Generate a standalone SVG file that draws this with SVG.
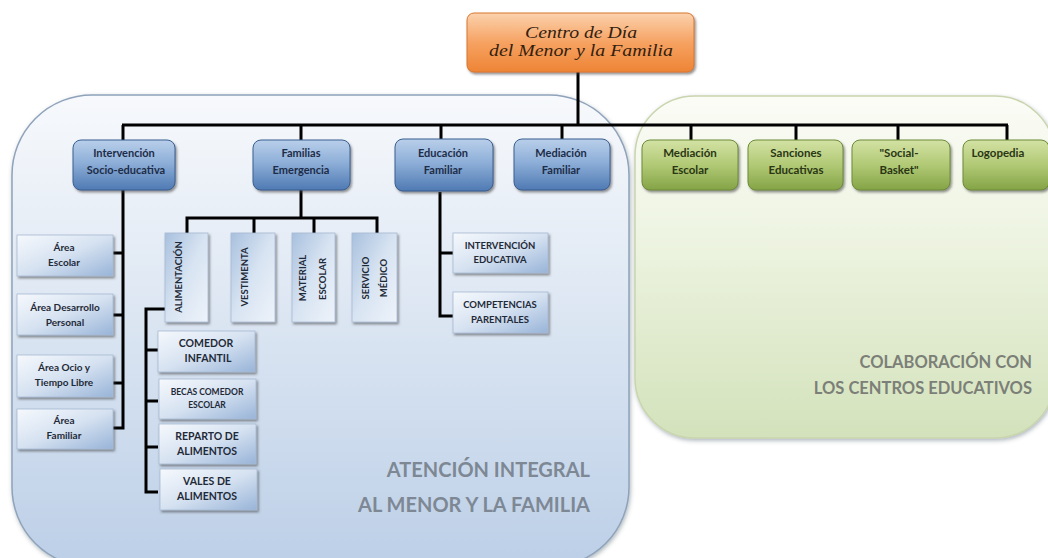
<svg xmlns="http://www.w3.org/2000/svg" width="1048" height="558" viewBox="0 0 1048 558">
<defs>
<linearGradient id="gPanelBlue" x1="0" y1="0" x2="0" y2="1">
<stop offset="0" stop-color="#f7f9fc"/><stop offset="0.35" stop-color="#e3ebf5"/><stop offset="1" stop-color="#bccfe7"/>
</linearGradient>
<linearGradient id="gPanelGreen" x1="0" y1="0" x2="0" y2="1">
<stop offset="0" stop-color="#fbfcf6"/><stop offset="0.4" stop-color="#eef4e2"/><stop offset="1" stop-color="#d3e2bb"/>
</linearGradient>
<linearGradient id="gOrange" x1="0" y1="0" x2="0" y2="1">
<stop offset="0" stop-color="#fbd2ad"/><stop offset="0.5" stop-color="#f6a262"/><stop offset="1" stop-color="#ee8435"/>
</linearGradient>
<linearGradient id="gBlue" x1="0" y1="0" x2="0" y2="1">
<stop offset="0" stop-color="#b9cfea"/><stop offset="0.45" stop-color="#8eafd8"/><stop offset="1" stop-color="#4f7ab3"/>
</linearGradient>
<linearGradient id="gGreen" x1="0" y1="0" x2="0" y2="1">
<stop offset="0" stop-color="#d3e2a4"/><stop offset="0.5" stop-color="#b1c975"/><stop offset="1" stop-color="#84a446"/>
</linearGradient>
<linearGradient id="gSub" x1="0" y1="0" x2="1" y2="1">
<stop offset="0" stop-color="#f6f9fd"/><stop offset="0.5" stop-color="#d6e2f1"/><stop offset="1" stop-color="#98b4d8"/>
</linearGradient>
<linearGradient id="gSubV" x1="0" y1="0" x2="1" y2="1">
<stop offset="0" stop-color="#a8c0de"/><stop offset="0.5" stop-color="#d8e4f2"/><stop offset="1" stop-color="#eef3fa"/>
</linearGradient>
<filter id="sh" x="-10%" y="-10%" width="130%" height="130%">
<feDropShadow dx="1.5" dy="2" stdDeviation="1" flood-color="#404040" flood-opacity="0.55"/>
</filter>
<filter id="shP" x="-5%" y="-5%" width="110%" height="110%">
<feDropShadow dx="1" dy="2" stdDeviation="2" flood-color="#506070" flood-opacity="0.45"/>
</filter>
</defs>
<style>
.t{font-family:Lato,"Liberation Sans",Arial,sans-serif;font-weight:700;text-anchor:middle}
.tb{fill:#1d2c48;font-size:11px}
.tg{fill:#2a3614;font-size:11.5px}
.ts{fill:#1f2a38;font-size:10px}
.tv{fill:#1f2a38;font-size:9.5px}
.big{font-family:Lato,"Liberation Sans",Arial,sans-serif;font-weight:700;text-anchor:end}
.conn{stroke:#000;stroke-width:3;fill:none;stroke-linejoin:miter}
.nb{fill:url(#gBlue);stroke:#3a5f90;stroke-width:1;filter:url(#sh)}
.ng{fill:url(#gGreen);stroke:#6d8a38;stroke-width:1;filter:url(#sh)}
.ns{fill:url(#gSub);stroke:#a7b9d2;stroke-width:0.8;filter:url(#sh)}
.nv{fill:url(#gSubV);stroke:#a7b9d2;stroke-width:0.8;filter:url(#sh)}
</style>

<g id="panels">
<rect x="12" y="95" width="617" height="472" rx="80" ry="80" fill="url(#gPanelBlue)" stroke="#8fa3bb" stroke-width="1.5" filter="url(#shP)"/>
<rect x="635" y="96" width="420" height="342" rx="60" ry="60" fill="url(#gPanelGreen)" stroke="#c9d5ae" stroke-width="1.5" filter="url(#shP)"/>
<text class="big" x="590" y="477" font-size="20" fill="#7d8894">ATENCIÓN INTEGRAL</text>
<text class="big" x="590" y="512" font-size="20" fill="#7d8894">AL MENOR Y LA FAMILIA</text>
<text class="big" x="1032" y="368" font-size="16.5" fill="#7c7f78">COLABORACIÓN CON</text>
<text class="big" x="1032" y="394" font-size="16.5" fill="#7c7f78">LOS CENTROS EDUCATIVOS</text>
</g>

<g id="connectors">
<path class="conn" d="M578 72 V125 M122 125 H1008"/>
<path class="conn" d="M123 125 V140 M301 125 V140 M441 125 V139 M562 125 V139 M691 125 V140 M796 125 V140 M898 125 V140 M1007 125 V140"/>
<path class="conn" d="M123 190 V428 H113 M113 253 H123 M113 315 H123 M113 383 H123"/>
<path class="conn" d="M301 190 V218 M187 233 V218 H377 V233 M254 218 V233 M314 218 V233"/>
<path class="conn" d="M165 309 H146 V492 H158 M146 350 H158 M146 401 H158 M146 447 H158"/>
<path class="conn" d="M440 192 V316 H453 M440 253 H453"/>
</g>

<g id="n-centro">
<rect x="467" y="13" width="227" height="59" rx="7" fill="url(#gOrange)" stroke="#d8772f" stroke-width="1" filter="url(#sh)"/>
<text x="581" y="38" font-family="'Liberation Serif',serif" font-style="italic" font-size="16" fill="#33210f" text-anchor="middle" textLength="112" lengthAdjust="spacingAndGlyphs">Centro de Día</text>
<text x="581" y="56" font-family="'Liberation Serif',serif" font-style="italic" font-size="16" fill="#33210f" text-anchor="middle" textLength="184" lengthAdjust="spacingAndGlyphs">del Menor y la Familia</text>
</g>

<g id="n-intervencion"><rect class="nb" x="73" y="140" width="102" height="50" rx="8"/><text class="t tb" x="124" y="157">Intervención</text><text class="t tb" x="126" y="174">Socio-educativa</text></g>
<g id="n-familias"><rect class="nb" x="253" y="140" width="97" height="50" rx="8"/><text class="t tb" x="301" y="157">Familias</text><text class="t tb" x="301" y="174">Emergencia</text></g>
<g id="n-educacion"><rect class="nb" x="395" y="139" width="98" height="52" rx="8"/><text class="t tb" x="443" y="157">Educación</text><text class="t tb" x="443" y="174">Familiar</text></g>
<g id="n-mediacionfam"><rect class="nb" x="514" y="139" width="96" height="51" rx="8"/><text class="t tb" x="561" y="157">Mediación</text><text class="t tb" x="561" y="174">Familiar</text></g>

<g id="n-mediacionesc"><rect class="ng" x="642" y="140" width="96" height="50" rx="8"/><text class="t tg" x="690" y="157">Mediación</text><text class="t tg" x="690" y="174">Escolar</text></g>
<g id="n-sanciones"><rect class="ng" x="748" y="140" width="95" height="50" rx="8"/><text class="t tg" x="796" y="157">Sanciones</text><text class="t tg" x="796" y="174">Educativas</text></g>
<g id="n-socialbasket"><rect class="ng" x="852" y="140" width="98" height="50" rx="8"/><text class="t tg" x="899" y="157">"Social-</text><text class="t tg" x="899" y="174">Basket"</text></g>
<g id="n-logopedia"><rect class="ng" x="963" y="140" width="86" height="50" rx="8"/><text class="t tg" x="998" y="157" font-size="12">Logopedia</text></g>

<g id="n-area-escolar"><rect class="ns" x="17" y="235" width="96" height="41"/><text class="t ts" x="64" y="251">Área</text><text class="t ts" x="64" y="266">Escolar</text></g>
<g id="n-area-desarrollo"><rect class="ns" x="17" y="294" width="96" height="41"/><text class="t ts" x="65" y="311">Área Desarrollo</text><text class="t ts" x="65" y="326">Personal</text></g>
<g id="n-area-ocio"><rect class="ns" x="17" y="355" width="96" height="42"/><text class="t ts" x="64" y="371">Área Ocio y</text><text class="t ts" x="64" y="386">Tiempo Libre</text></g>
<g id="n-area-familiar"><rect class="ns" x="17" y="409" width="96" height="40"/><text class="t ts" x="64" y="424">Área</text><text class="t ts" x="64" y="439">Familiar</text></g>

<g id="n-alimentacion"><rect class="nv" x="165" y="233" width="43" height="89"/><text class="t tv" transform="translate(182 277) rotate(-90)">ALIMENTACIÓN</text></g>
<g id="n-vestimenta"><rect class="nv" x="231" y="233" width="44" height="89"/><text class="t tv" transform="translate(248 277) rotate(-90)">VESTIMENTA</text></g>
<g id="n-material"><rect class="nv" x="292" y="233" width="43" height="89"/><text class="t tv" transform="translate(306 278) rotate(-90)">MATERIAL</text><text class="t tv" transform="translate(326 279) rotate(-90)">ESCOLAR</text></g>
<g id="n-servicio"><rect class="nv" x="352" y="233" width="45" height="89"/><text class="t tv" transform="translate(369 278) rotate(-90)">SERVICIO</text><text class="t tv" transform="translate(387 278) rotate(-90)">MÉDICO</text></g>

<g id="n-comedor"><rect class="ns" x="158" y="331" width="97" height="41"/><text class="t" x="206" y="347" font-size="10.5" fill="#1f2a38">COMEDOR</text><text class="t" x="208" y="362" font-size="10.5" fill="#1f2a38">INFANTIL</text></g>
<g id="n-becas"><rect class="ns" x="159" y="379" width="97" height="40"/><text class="t" x="207" y="395" font-size="8.5" fill="#1f2a38">BECAS COMEDOR</text><text class="t" x="207" y="408" font-size="8.5" fill="#1f2a38">ESCOLAR</text></g>
<g id="n-reparto"><rect class="ns" x="159" y="424" width="97" height="40"/><text class="t" x="207" y="440" font-size="10.5" fill="#1f2a38">REPARTO DE</text><text class="t" x="207" y="455" font-size="10.5" fill="#1f2a38">ALIMENTOS</text></g>
<g id="n-vales"><rect class="ns" x="160" y="469" width="97" height="41"/><text class="t" x="207" y="485" font-size="10.5" fill="#1f2a38">VALES DE</text><text class="t" x="207" y="500" font-size="10.5" fill="#1f2a38">ALIMENTOS</text></g>

<g id="n-intervedu"><rect class="ns" x="453" y="233" width="95" height="40"/><text class="t" x="500" y="249" font-size="9.5" fill="#1f2a38">INTERVENCIÓN</text><text class="t" x="500" y="263" font-size="9.5" fill="#1f2a38">EDUCATIVA</text></g>
<g id="n-competencias"><rect class="ns" x="453" y="292" width="95" height="41"/><text class="t" x="500" y="308" font-size="9.5" fill="#1f2a38">COMPETENCIAS</text><text class="t" x="500" y="323" font-size="9.5" fill="#1f2a38">PARENTALES</text></g>
</svg>
